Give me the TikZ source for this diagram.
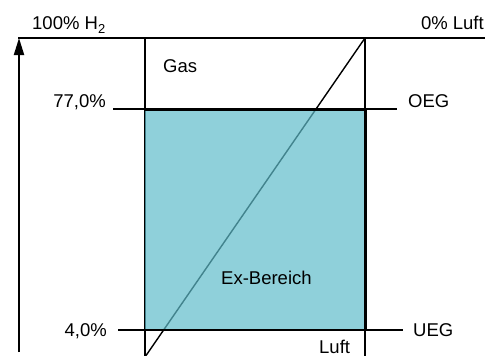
\documentclass[tikz,border=0pt]{standalone}
\usepackage{fontspec}
\setmainfont{Liberation Sans}
\usetikzlibrary{arrows.meta}
\definecolor{exfill}{RGB}{95,188,202}
\begin{document}
\begin{tikzpicture}[x=1pt,y=-1pt,
  lab/.style={font=\fontsize{18.5}{21}\selectfont, inner sep=0pt},
  thinline/.style={line width=1.4pt, black},
  midline/.style={line width=2pt, black},
  boldline/.style={line width=3pt, black}]
\useasboundingbox (0,0) rectangle (485,356);
\clip (0,0) rectangle (485,356);
% coordinates
\coordinate (axB) at (19,352);
\coordinate (axT) at (19,38);
\coordinate (topL) at (18,38);
\coordinate (topR) at (485,38);
\coordinate (LT) at (145,38);
\coordinate (LB) at (145,357);
\coordinate (RT) at (365,38);
\coordinate (RB) at (365,357);
\coordinate (oegL) at (113,109);
\coordinate (oegR) at (397,109);
\coordinate (uegL) at (118,330);
\coordinate (uegR) at (403,330);
\coordinate (bx1) at (145,109);
\coordinate (bx2) at (365,330);
% lines under the box
\draw[midline] (topL) -- (topR);
\draw[midline, -{Triangle[length=17pt,width=10pt]}] (axB) -- (axT);
\draw[thinline] (LT) -- (LB);
\draw[thinline] (LB) -- (RT);
\draw[thinline] (oegL) -- (oegR);
\draw[thinline] (uegL) -- (uegR);
\draw[midline] (RT) -- (RB);
% box
\fill[exfill, opacity=0.7] (bx1) rectangle (bx2);
\draw[boldline] (bx1) -- (bx1 -| bx2);
\draw[boldline] (bx1 -| bx2) -- (bx2);
\draw[midline] (bx2) -- (bx2 -| bx1);
% labels
\node[lab, anchor=base west] (h2) at (32,30) {100\% H\textsubscript{2}};
\node[lab, anchor=base east] (luft0) at (484,30) {0\% Luft};
\node[lab, anchor=base west] (gas) at (163,72) {Gas};
\node[lab, anchor=base east] (p77) at (106,107) {77,0\%};
\node[lab, anchor=base west] (oeg) at (408,107) {OEG};
\node[lab, anchor=base west] (ex) at (221,284) {Ex-Bereich};
\node[lab, anchor=base east] (p4) at (107,336) {4,0\%};
\node[lab, anchor=base west] (ueg) at (413,336) {UEG};
\node[lab, anchor=base west] (luft) at (319,353) {Luft};
\end{tikzpicture}
\end{document}
